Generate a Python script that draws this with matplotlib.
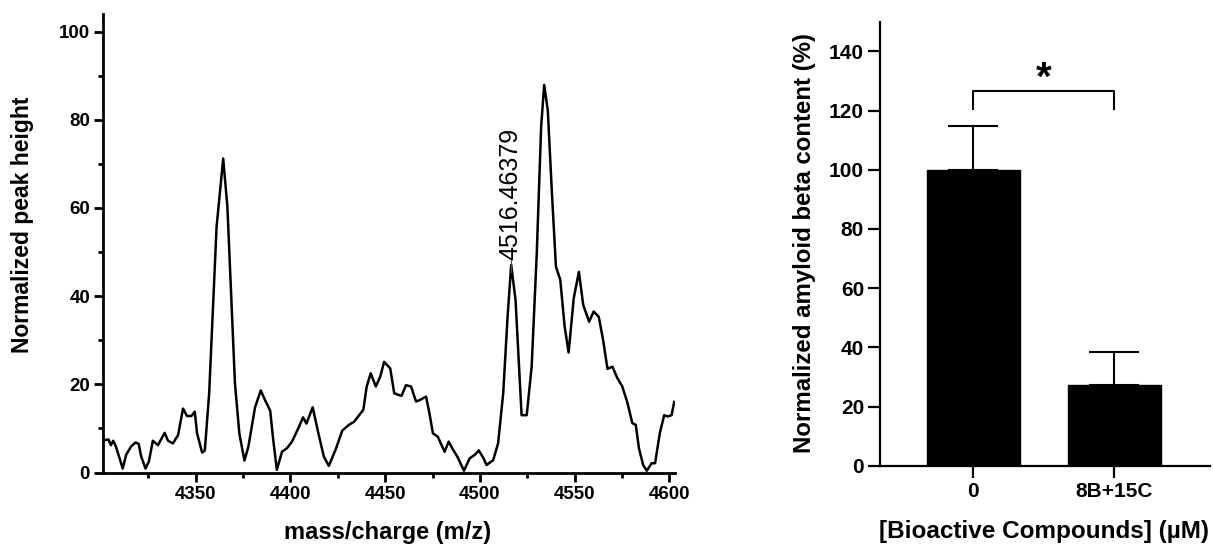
import matplotlib
matplotlib.use('Agg')
import matplotlib.pyplot as plt
from matplotlib.ticker import MultipleLocator

plt.rcParams['font.family'] = ['Liberation Sans', 'DejaVu Sans']
plt.rcParams['font.weight'] = 'bold'

# ---- Left panel: mass spectrum ----
mz = [4302.7, 4304.1, 4305.3, 4306.6, 4308.0, 4311.6, 4313.4, 4316.0, 4318.3, 4320.0,
      4321.3, 4323.6, 4325.4, 4327.5, 4330.2, 4333.7, 4335.5, 4338.1, 4340.8, 4343.4,
      4345.5, 4347.8, 4349.6, 4350.8, 4353.5, 4354.9, 4357.2, 4361.1, 4364.6, 4366.8,
      4370.8, 4373.1, 4375.8, 4377.9, 4381.4, 4384.4, 4386.7, 4389.4, 4390.8, 4392.9,
      4395.6, 4398.2, 4400.9, 4404.4, 4406.7, 4408.5, 4411.8, 4415.0, 4417.7, 4420.3,
      4423.9, 4427.4, 4430.9, 4433.6, 4436.3, 4438.5, 4440.3, 4442.4, 4445.1, 4447.4,
      4449.5, 4452.7, 4454.8, 4457.0, 4458.7, 4461.0, 4463.7, 4466.3, 4468.1, 4471.6,
      4473.4, 4475.2, 4477.8, 4481.4, 4483.5, 4485.8, 4488.1, 4491.6, 4494.6, 4497.3,
      4499.4, 4501.7, 4503.5, 4507.0, 4509.6, 4512.3, 4514.6, 4516.5, 4518.8, 4522.0,
      4524.7, 4527.3, 4530.0, 4532.3, 4533.9, 4535.8, 4538.0, 4540.1, 4542.4, 4544.7,
      4546.8, 4549.5, 4552.2, 4554.5, 4557.6, 4560.0, 4562.7, 4565.0, 4567.3, 4569.9,
      4572.4, 4575.1, 4577.7, 4580.4, 4582.2, 4583.9, 4586.1, 4588.0, 4590.6, 4592.4,
      4594.9, 4597.2, 4599.0, 4601.1, 4602.5]
intensity = [7.4, 7.5, 6.2, 7.2, 5.9, 0.9, 4.0, 5.9, 6.8, 6.5,
             3.7, 0.9, 2.5, 7.2, 6.2, 9.0, 7.2, 6.6, 8.5, 14.5,
             12.8, 12.8, 13.8, 8.9, 4.5, 5.0, 18.0, 55.7, 71.2, 60.3,
             20.2, 8.9, 2.7, 5.9, 14.8, 18.6, 16.4, 14.0, 8.1, 0.6,
             4.7, 5.5, 7.0, 10.2, 12.5, 11.1, 14.8, 8.5, 3.6, 1.5,
             5.2, 9.5, 10.8, 11.5, 13.0, 14.2, 19.5, 22.5, 19.5, 21.7,
             25.1, 23.6, 18.0, 17.6, 17.4, 19.8, 19.5, 16.1, 16.4, 17.2,
             13.4, 8.9, 8.1, 4.7, 7.0, 5.2, 3.6, 0.4, 3.2, 4.0,
             5.0, 3.4, 1.7, 2.8, 6.6, 18.0, 35.3, 47.1, 39.1, 13.0,
             13.0, 24.0, 49.7, 78.4, 87.9, 82.2, 63.3, 46.7, 43.7, 33.1,
             27.2, 39.5, 45.5, 38.0, 34.2, 36.5, 35.3, 30.0, 23.5, 24.0,
             21.5, 19.5, 16.0, 11.2, 10.8, 5.5, 1.7, 0.4, 2.1, 2.1,
             8.9, 13.0, 12.7, 13.0, 16.0]
peak_label_mz = 4516.46379
peak_label_text = "4516.46379"

# ---- Right panel: bar chart ----
categories = ['0', '8B+15C']
means = [100.0, 27.3]
errors = [14.7, 11.1]

W, H = 1213, 545
fig = plt.figure(figsize=(W / 100, H / 100), dpi=100)

# Left axes
ax1 = fig.add_axes([103.2 / W, 72.5 / H, 571.4 / W, 458.6 / H])
ax1.plot(mz, intensity, color='black', lw=1.8, solid_joinstyle='round')
ax1.set_xlim(4301.3, 4602.7)
ax1.set_ylim(0, 104)
for s in ['top', 'right']:
    ax1.spines[s].set_visible(False)
for s in ['left', 'bottom']:
    ax1.spines[s].set_linewidth(2)
ax1.xaxis.set_major_locator(MultipleLocator(50))
ax1.xaxis.set_minor_locator(MultipleLocator(25))
ax1.yaxis.set_major_locator(MultipleLocator(20))
ax1.yaxis.set_minor_locator(MultipleLocator(10))
ax1.tick_params(which='major', length=6.5, width=2, labelsize=13.5, pad=3)
ax1.tick_params(which='minor', length=3.5, width=2)

# annotation of peak
ax1.plot([peak_label_mz, peak_label_mz], [45.5, 48.5], color='red', lw=0.8)
ax1.text(peak_label_mz - 0.3, 48.3, peak_label_text, rotation=90, ha='center', va='bottom',
         fontsize=18, fontweight='normal')

fig.text(22.5 / W, (H - 224.5) / H, 'Normalized peak height', rotation=90,
         ha='center', va='center', fontsize=16.5)
fig.text(388 / W, 6 / H, 'mass/charge (m/z)', ha='center', va='baseline', fontsize=17)

# Right axes
ax2 = fig.add_axes([880 / W, 79.2 / H, 330 / W, 444 / H])
x = list(range(len(categories)))
ax2.bar(x, means, width=0.66, color='black', edgecolor='black')
ax2.errorbar(x, means, yerr=[[0] * len(errors), errors], fmt='none', ecolor='black',
             elinewidth=1.5, capsize=18, capthick=1.5)
ax2.set_xlim(-0.663, 1.68)
ax2.set_ylim(0, 150)
ax2.set_xticks(x)
ax2.set_xticklabels(categories)
ax2.set_yticks(range(0, 141, 20))
for s in ['top', 'right']:
    ax2.spines[s].set_visible(False)
for s in ['left', 'bottom']:
    ax2.spines[s].set_linewidth(1.6)
ax2.tick_params(which='major', length=8.5, width=1.6, labelsize=15, pad=3)

# significance bracket
ax2.plot([0, 0, 1, 1], [120.4, 126.6, 126.6, 120.4], color='black', lw=1.5)
ax2.text(0.5, 127, '*', ha='center', va='baseline', fontsize=29)

fig.text(805 / W, (H - 243) / H, 'Normalized amyloid beta content (%)', rotation=90,
         ha='center', va='center', fontsize=17.3)
fig.text(1044 / W, 7 / H, '[Bioactive Compounds] (µM)', ha='center', va='baseline',
         fontsize=17.5)

fig.savefig('out.png', dpi=100)
